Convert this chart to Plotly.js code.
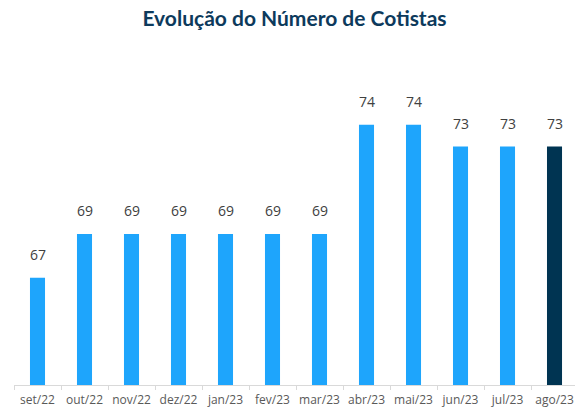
<!DOCTYPE html>
<html>
<head>
<meta charset="utf-8">
<script src="https://cdn.plot.ly/plotly-3.0.1.min.js"></script>
<style>html,body{margin:0;padding:0;background:#fff;}#chart{width:575px;height:410px;}</style>
</head>
<body>
<div id="chart"></div>
<script>
const categories = ["set/22","out/22","nov/22","dez/22","jan/23","fev/23","mar/23","abr/23","mai/23","jun/23","jul/23","ago/23"];
const cotistas = [67, 69, 69, 69, 69, 69, 69, 74, 74, 73, 73, 73];
const barColors = cotistas.map((v, i) => i === cotistas.length - 1 ? "#003452" : "#1EA5FC");

const trace = {
  type: "bar",
  x: categories,
  y: cotistas,
  marker: { color: barColors },
  width: 0.32,
  hoverinfo: "x+y"
};

const annotations = categories.map((c, i) => ({
  x: c, y: cotistas[i], xref: "x", yref: "y",
  text: String(cotistas[i]), showarrow: false,
  yanchor: "bottom", yshift: 12,
  font: { family: "Open Sans, sans-serif", size: 14, color: "#404040" }
}));

const layout = {
  width: 575, height: 410,
  margin: { l: 14, r: 0, t: 40, b: 25 },
  paper_bgcolor: "#fff", plot_bgcolor: "#fff",
  title: {
    text: "<b>Evolução do Número de Cotistas</b>",
    x: 0.5, xanchor: "center", xref: "paper",
    y: 0.955, yref: "container", yanchor: "middle",
    font: { family: "Lato, sans-serif", size: 21, color: "#0D3A5C" }
  },
  xaxis: {
    type: "category",
    range: [-0.5, 11.436],
    showline: true, linecolor: "#D9D9D9", linewidth: 1,
    ticks: "outside", ticklen: 4, tickcolor: "#D9D9D9",
    tickson: "boundaries",
    tickangle: 0,
    ticklabelstandoff: 4,
    automargin: false,
    tickfont: { family: "Open Sans, sans-serif", size: 12, color: "#595959" },
    showgrid: false, zeroline: false, fixedrange: true
  },
  yaxis: {
    range: [62.1, 77.87],
    visible: false, showgrid: false, zeroline: false, fixedrange: true
  },
  annotations: annotations,
  showlegend: false,
  bargap: 0.68
};

Plotly.newPlot("chart", [trace], layout, { displayModeBar: false, staticPlot: true });
</script>
</body>
</html>
